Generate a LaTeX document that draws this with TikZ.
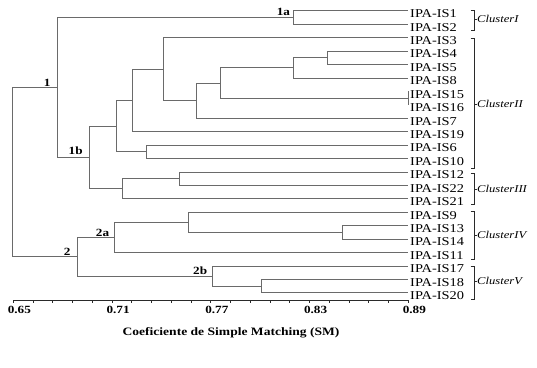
\documentclass[tikz,border=0pt]{standalone}
\usepackage{fontspec}
\setmainfont{Liberation Serif}[FakeStretch=1.2]
\usepackage{tikz}
\usetikzlibrary{
    positioning
}
\definecolor{treegray}{HTML}{6A6A6A}
\definecolor{brackgray}{HTML}{2A2A2A}

\begin{document}
\begin{tikzpicture}[
    x=1pt, y=-1pt,
    branch/.style={draw=treegray, line width=0.7pt},
    brack/.style={draw=brackgray, line width=0.7pt},
    leaf/.style={anchor=west, inner sep=0pt, font=\fontsize{12}{12}\selectfont},
    clab/.style={inner sep=0pt, font=\fontsize{11}{11}\selectfont\bfseries},
    cluster/.style={anchor=west, inner sep=0pt, font=\fontsize{10.5}{10.5}\selectfont\itshape},
    ticklab/.style={inner sep=0pt, font=\fontsize{11}{11}\selectfont\bfseries},
]
    \useasboundingbox (0,0) rectangle (537,367);

    % Leaves
    \foreach \s [count=\i from 0] in {IS1,IS2,IS3,IS4,IS5,IS8,IS15,IS16,IS7,IS19,IS6,IS10,IS12,IS22,IS21,IS9,IS13,IS14,IS11,IS17,IS18,IS20} {
        \coordinate (\s) at (408, {10.7+13.43*\i});
        \node[leaf] (t\s) at (410, {13.7+13.43*\i}) {IPA-\s};
    }

    % Group 1
    \coordinate (g45)   at (327.3, 57.7);
    \coordinate (g458)  at (293.7, 67.8);
    \coordinate (g1516) at (408, 98.0);
    \coordinate (e)     at (220.3, 82.9);
    \coordinate (d)     at (196, 100.5);
    \coordinate (c)     at (163.3, 69.05);
    \coordinate (b)     at (132.7, 100.3);
    \coordinate (h)     at (146.7, 151.7);
    \coordinate (a)     at (116, 126);
    \coordinate (j)     at (179.3, 178.6);
    \coordinate (i)     at (122.7, 188.65);
    \coordinate (n1b)   at (89.3, 157.3);
    \coordinate (n1a)   at (293.7, 17.4);
    \coordinate (n1)    at (57.7, 87.35);

    % Group 2
    \coordinate (m)     at (342.7, 232.3);
    \coordinate (l)     at (188, 222.25);
    \coordinate (n2a)   at (114.3, 237.3);
    \coordinate (o)     at (261.7, 286);
    \coordinate (n2b)   at (212.3, 275.95);
    \coordinate (n2)    at (77.7, 256.6);
    \coordinate (root)  at (12.3, 172);

    % Branches
    \draw[branch] (g45) |- (IS4) (g45) |- (IS5);
    \draw[branch] (g458) |- (g45) (g458) |- (IS8);
    \draw[branch] (g1516) |- (IS15) (g1516) |- (IS16);
    \draw[branch] (e) |- (g458) (e) |- (g1516);
    \draw[branch] (d) |- (e) (d) |- (IS7);
    \draw[branch] (c) |- (IS3) (c) |- (d);
    \draw[branch] (b) |- (c) (b) |- (IS19);
    \draw[branch] (h) |- (IS6) (h) |- (IS10);
    \draw[branch] (a) |- (b) (a) |- (h);
    \draw[branch] (j) |- (IS12) (j) |- (IS22);
    \draw[branch] (i) |- (j) (i) |- (IS21);
    \draw[branch] (n1b) |- (a) (n1b) |- (i);
    \draw[branch] (n1a) |- (IS1) (n1a) |- (IS2);
    \draw[branch] (n1) |- (n1a) (n1) |- (n1b);
    \draw[branch] (m) |- (IS13) (m) |- (IS14);
    \draw[branch] (l) |- (IS9) (l) |- (m);
    \draw[branch] (n2a) |- (l) (n2a) |- (IS11);
    \draw[branch] (o) |- (IS18) (o) |- (IS20);
    \draw[branch] (n2b) |- (IS17) (n2b) |- (o);
    \draw[branch] (n2) |- (n2a) (n2) |- (n2b);
    \draw[branch] (root) |- (n1) (root) |- (n2);

    % Node labels
    \node[clab, above left=1pt and 7pt of n1, anchor=south east] (l1) {1};
    \node[clab, above left=1.5pt and 3.5pt of n1a, anchor=south east] (l1a) {1a};
    \node[clab, above left=2pt and 6.5pt of n1b, anchor=south east] (l1b) {1b};
    \node[clab, above left=1pt and 7pt of n2, anchor=south east] (l2) {2};
    \node[clab, above left=0pt and 5pt of n2a, anchor=south east] (l2a) {2a};
    \node[clab, above left=1pt and 5pt of n2b, anchor=south east] (l2b) {2b};

    % Clusters
    \foreach \top/\bot/\mid/\txt in {10/30/19.3/I, 38.3/168/104/II, 173.3/204/189/III, 211.7/259/235/IV, 266/299/281/V} {
        \draw[brack] (470.5,\top) -- (474,\top) -- (474,\bot) -- (470.5,\bot);
        \draw[brack] (474,\mid) -- (476.5,\mid);
        \node[cluster] (c\txt) at (477,\mid) {Cluster\txt};
    }

    % Axis
    \draw[brack] (13.3,300) -- (408.3,300);
    \foreach \k in {0,...,20}
        \draw[brack] ({13.3+19.75*\k},300) -- ++(0,2.5);
    \foreach \v [count=\k from 0] in {0.65,0.71,0.77,0.83,0.89}
        \node[ticklab] (v\k) at ({19.3+98.75*\k},310) {\v};
    \node[font=\fontsize{11.3}{11.3}\selectfont\bfseries] (title) at (231,333) {Coeficiente de Simple Matching (SM)};

\end{tikzpicture}
\end{document}
